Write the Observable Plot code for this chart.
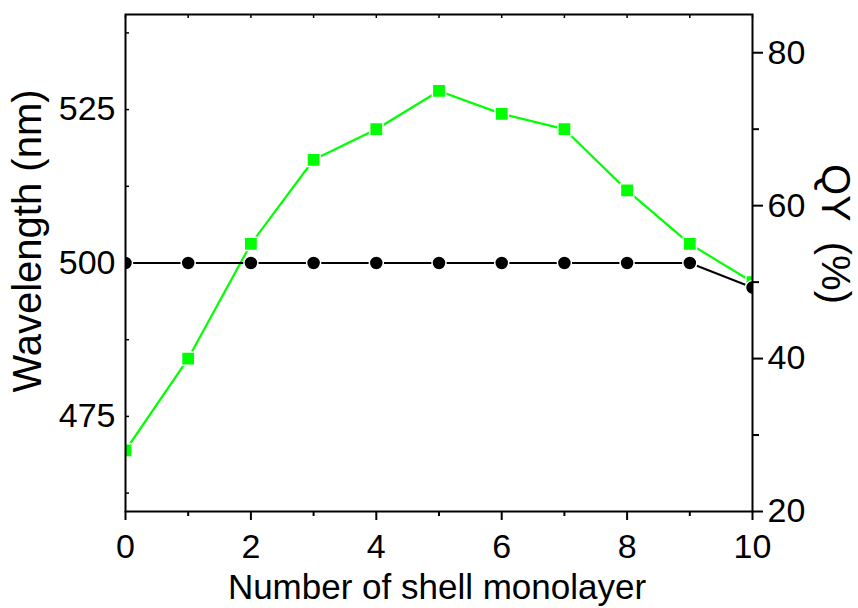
<!DOCTYPE html>
<html>
<head>
<meta charset="utf-8">
<script src="https://cdn.jsdelivr.net/npm/d3@7"></script>
<script src="https://cdn.jsdelivr.net/npm/@observablehq/plot@0.6"></script>
<style>
  html, body { margin: 0; padding: 0; background: white; }
  #chart svg { display: block; }
</style>
</head>
<body>
<div id="chart"></div>
<script>
// Data
const shells = [0, 1, 2, 3, 4, 5, 6, 7, 8, 9, 10];
const wavelength = [500, 500, 500, 500, 500, 500, 500, 500, 500, 500, 496];
const qy = [28, 40, 55, 66, 70, 75, 72, 70, 62, 55, 50];

// Axis ticks
const xMajor = [0, 2, 4, 6, 8, 10];
const xMinor = [1, 3, 5, 7, 9];
const wlMajor = [475, 500, 525];
const wlMinor = [462.5, 487.5, 512.5, 537.5];
const qyMajor = [20, 40, 60, 80];
const qyMinor = [30, 50, 70];

// Scale domains
const wlDomain = [459.5, 540.5];
const qyDomain = [20, 85];

// QY mapped onto the wavelength (left) scale
const toW = q => wlDomain[0] + (q - qyDomain[0]) * (wlDomain[1] - wlDomain[0]) / (qyDomain[1] - qyDomain[0]);
const fromW = w => qyDomain[0] + (w - wlDomain[0]) * (qyDomain[1] - qyDomain[0]) / (wlDomain[1] - wlDomain[0]);

const data = shells.map((s, i) => ({shell: s, wl: wavelength[i], qy: qy[i]}));

const chart = Plot.plot({
  width: 858,
  height: 608,
  marginLeft: 125,
  marginRight: 106,
  marginTop: 14,
  marginBottom: 97,
  style: {fontFamily: "'Liberation Sans', Arial, sans-serif", fontSize: "34px", color: "black", background: "white"},
  x: {domain: [0, 10]},
  y: {domain: wlDomain},
  marks: [
    // green QY series
    Plot.line(data, {x: "shell", y: d => toW(d.qy), stroke: "#00ff00", strokeWidth: 2.2, clip: true}),
    Plot.dot(data, {x: "shell", y: d => toW(d.qy), symbol: "square", r: 7.5, fill: "#00ff00", stroke: "white", strokeWidth: 1.5, clip: true}),
    // black wavelength series
    Plot.line(data, {x: "shell", y: "wl", stroke: "black", strokeWidth: 2, clip: true}),
    Plot.dot(data, {x: "shell", y: "wl", r: 7, fill: "black", stroke: "white", strokeWidth: 1.5, clip: true}),
    Plot.frame({stroke: "black", strokeWidth: 2}),
    // bottom axis
    Plot.axisX(xMajor, {anchor: "bottom", tickSize: 9, tickPadding: 13, strokeWidth: 2, label: null, tickFormat: d => String(d)}),
    Plot.axisX(xMinor, {anchor: "bottom", tickSize: 5, strokeWidth: 2, label: null, tickFormat: () => ""}),
    // top axis inward ticks
    Plot.axisX(shells, {anchor: "top", tickSize: -3, strokeWidth: 1.5, label: null, tickFormat: () => ""}),
    // left axis
    Plot.axisY(wlMajor, {anchor: "left", tickSize: 0, tickPadding: 10, label: null, tickFormat: d => String(d)}),
    Plot.axisY(wlMajor.concat(wlMinor), {anchor: "left", tickSize: -4, strokeWidth: 1.5, label: null, tickFormat: () => ""}),
    // right axis (QY)
    Plot.axisY(qyMajor.map(toW), {anchor: "right", tickSize: 10, tickPadding: 5, strokeWidth: 2, label: null, tickFormat: w => String(Math.round(fromW(w)))}),
    Plot.axisY(qyMinor.map(toW), {anchor: "right", tickSize: 6, strokeWidth: 2, label: null, tickFormat: () => ""}),
    // axis titles
    Plot.text(["Number of shell monolayer"], {frameAnchor: "bottom", textAnchor: "middle", lineAnchor: "middle", dy: 76, dx: -2, fontSize: 35, fill: "black"}),
    Plot.text(["Wavelength (nm)"], {frameAnchor: "left", textAnchor: "middle", rotate: -90, lineAnchor: "middle", dx: -97, dy: -22, fontSize: 40, fill: "black"}),
    Plot.text(["QY\u2002(%)"], {frameAnchor: "right", textAnchor: "middle", rotate: 90, lineAnchor: "middle", dx: 82, dy: -29, fontSize: 40, fill: "black"})
  ]
});

document.getElementById("chart").appendChild(chart);
</script>
</body>
</html>
